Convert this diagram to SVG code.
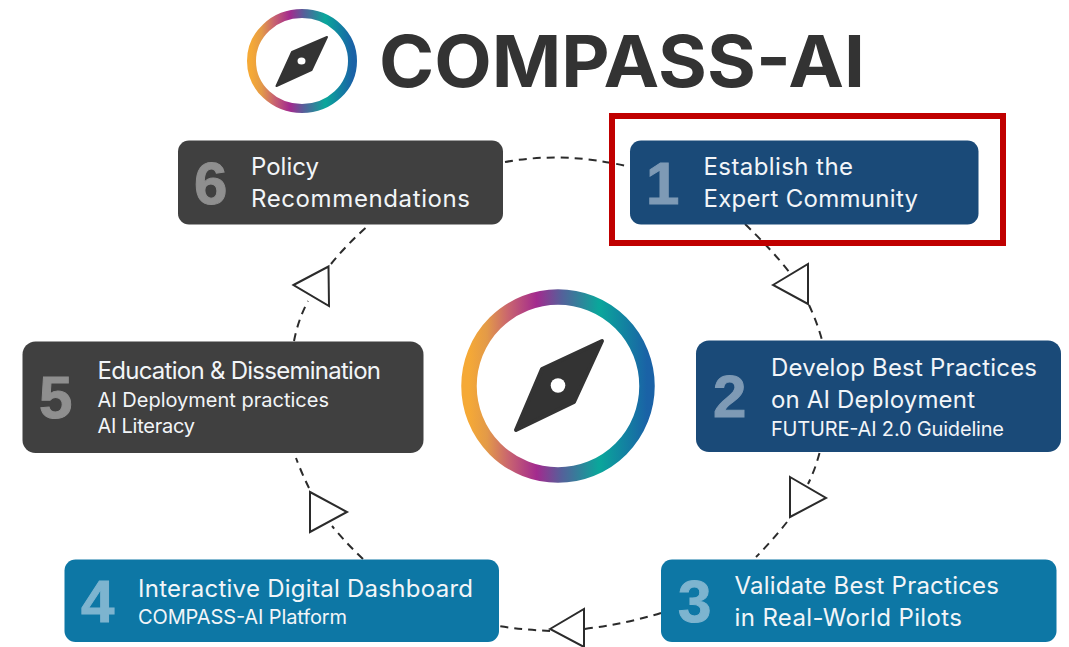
<svg xmlns="http://www.w3.org/2000/svg" width="1069" height="647" viewBox="0 0 1069 647">
<defs>
<linearGradient id="ringA" x1="0" y1="0" x2="1" y2="0">
<stop offset="0" stop-color="#f5a936"/><stop offset="0.1" stop-color="#e39a48"/><stop offset="0.22" stop-color="#c9656f"/><stop offset="0.38" stop-color="#a32a8e"/><stop offset="0.52" stop-color="#55609a"/><stop offset="0.73" stop-color="#0aa79b"/><stop offset="1" stop-color="#1a62a6"/>
</linearGradient>
</defs>
<style>
text{font-family:"Inter","Noto Sans","Liberation Sans",sans-serif;fill:#f2f5f8}
.box{stroke:none}
.navy{fill:#1a4a78}.teal{fill:#0d77a5}.dark{fill:#404040}
.num{font-family:"Liberation Sans",Arial,sans-serif;font-weight:700;font-size:60px;stroke-width:1px}
.t{font-size:24px}.s{font-size:20px}
.dash{fill:none;stroke:#2b2b2b;stroke-width:2;stroke-dasharray:8 6}
.tri{fill:#fff;stroke:#2b2b2b;stroke-width:2}
.needle{fill:#333;stroke:#333;stroke-linejoin:round}
</style>
<rect width="1069" height="647" fill="#fff"/>
<g id="logo">
<ellipse cx="302" cy="61" rx="50.5" ry="47.5" fill="none" stroke="url(#ringA)" stroke-width="9"/>
<path class="needle" stroke-width="2" d="M327 37L311.500 70L276.500 86L292 52Z"/>
<ellipse cx="301.500" cy="61" rx="4" ry="3.500" fill="#fff"/>
<text x="379" y="87" font-size="71" font-weight="700" style="fill:#333" textLength="486" lengthAdjust="spacingAndGlyphs">COMPASS-AI</text>
</g>
<g id="connectors">
<path class="dash" d="M505 162Q565 151 630 167"/>
<path class="dash" d="M745 224Q772 250 790 273"/>
<path class="dash" d="M809 305Q817 322 822 340"/>
<path class="dash" d="M819.500 453Q815 470 808 484"/>
<path class="dash" d="M787 522Q772 541 756 557"/>
<path class="dash" d="M661 613Q625 624 584 629"/>
<path class="dash" d="M550 631Q525 630 498 626"/>
<path class="dash" d="M363 559Q347 544 332 526"/>
<path class="dash" d="M309 488Q302 474 296 458"/>
<path class="dash" d="M294 341Q298 320 308 301"/>
<path class="dash" d="M331 264Q348 243 370 224"/>
<polygon class="tri" points="773,285 808,264 808,304"/>
<polygon class="tri" points="790,477 826,498 790,517"/>
<polygon class="tri" points="550,629 584,609 584,647"/>
<polygon class="tri" points="310,492 347,512 310,532"/>
<polygon class="tri" points="293.500,285 328.500,266.500 329,306"/>
</g>
<g id="highlight"><rect x="612" y="116" width="391" height="127" fill="none" stroke="#c00000" stroke-width="6"/></g>
<g id="compass">
<circle cx="558" cy="386" r="89" fill="none" stroke="url(#ringA)" stroke-width="15.500"/>
<path class="needle" stroke-width="4" d="M602 341L574 402L516 430L542 369Z"/>
<circle cx="558" cy="385.500" r="7.300" fill="#fff"/>
</g>
<g id="node6">
<rect class="box dark" x="178" y="140.500" width="325" height="84" rx="11"/>
<text class="num" x="194" y="204" style="fill:#8f8f8f;stroke:#8f8f8f">6</text>
<text class="t" x="251" y="175">Policy</text>
<text class="t" x="251" y="207" textLength="219">Recommendations</text>
</g>
<g id="node1">
<rect class="box navy" x="630" y="140.500" width="348.500" height="84" rx="11"/>
<text class="num" x="646" y="204" style="fill:#7e9ab5;stroke:#7e9ab5">1</text>
<text class="t" x="703.500" y="175" textLength="149.500">Establish the</text>
<text class="t" x="703.500" y="207" textLength="214.500">Expert Community</text>
</g>
<g id="node2">
<rect class="box navy" x="696" y="340.500" width="365" height="111.500" rx="13"/>
<text class="num" x="713" y="417" style="fill:#7e9ab5;stroke:#7e9ab5">2</text>
<text class="t" x="771" y="376" textLength="266">Develop Best Practices</text>
<text class="t" x="771" y="408" textLength="204">on AI Deployment</text>
<text class="s" x="771" y="436" textLength="233">FUTURE-AI 2.0 Guideline</text>
</g>
<g id="node3">
<rect class="box teal" x="661" y="559.500" width="395.500" height="82.500" rx="11"/>
<text class="num" x="678" y="622" style="fill:#7db4cf;stroke:#7db4cf">3</text>
<text class="t" x="734.500" y="594" textLength="264.500">Validate Best Practices</text>
<text class="t" x="734.500" y="626" textLength="227.500">in Real-World Pilots</text>
</g>
<g id="node4">
<rect class="box teal" x="64.500" y="559.500" width="434.500" height="82.500" rx="11"/>
<text class="num" x="81" y="622" style="fill:#7db4cf;stroke:#7db4cf">4</text>
<text class="t" x="138" y="597" textLength="335">Interactive Digital Dashboard</text>
<text class="s" x="138" y="624" textLength="209">COMPASS-AI Platform</text>
</g>
<g id="node5">
<rect class="box dark" x="22.500" y="341.500" width="401" height="111.500" rx="13"/>
<text class="num" x="39" y="418" style="fill:#8f8f8f;stroke:#8f8f8f">5</text>
<text class="t" x="97.500" y="379" textLength="283.500">Education &amp; Dissemination</text>
<text class="s" x="97.500" y="407" textLength="231.500">AI Deployment practices</text>
<text class="s" x="97.500" y="433" textLength="97.500">AI Literacy</text>
</g>
</svg>
